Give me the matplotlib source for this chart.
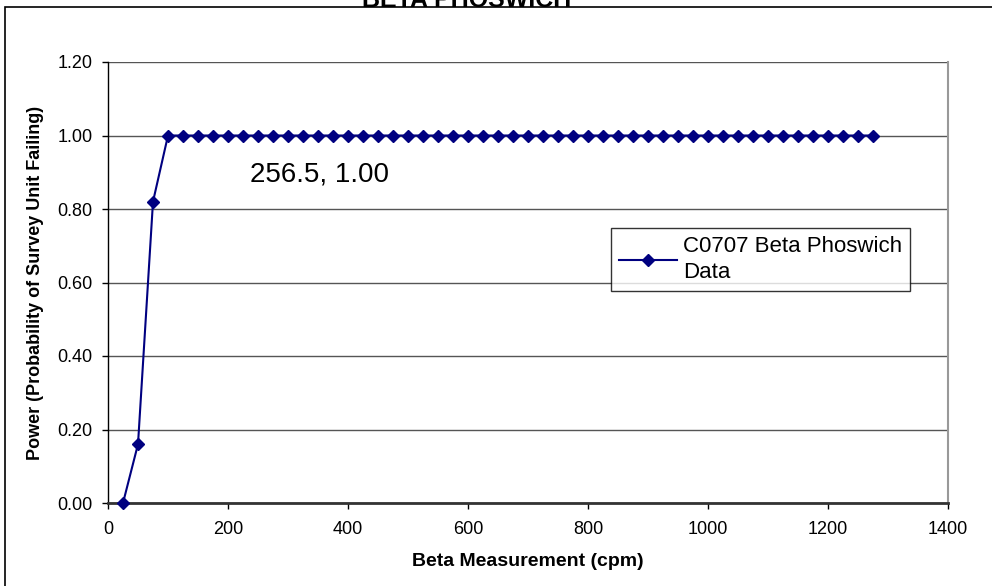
import matplotlib
matplotlib.use("Agg")
import matplotlib.pyplot as plt
from matplotlib.patches import Rectangle

plt.rcParams['font.family'] = ['Liberation Sans', 'DejaVu Sans']

# Data
beta_cpm = [25, 50, 75, 100, 125, 150, 175, 200, 225, 250, 275, 300, 325, 350,
            375, 400, 425, 450, 475, 500, 525, 550, 575, 600, 625, 650, 675,
            700, 725, 750, 775, 800, 825, 850, 875, 900, 925, 950, 975, 1000,
            1025, 1050, 1075, 1100, 1125, 1150, 1175, 1200, 1225, 1250, 1275]
power = [0.00, 0.16, 0.82] + [1.00] * 48
series_name = "C0707 Beta Phoswich\nData"
title = "BETA PHOSWICH"
annotation = "256.5, 1.00"
x_ticks = [0, 200, 400, 600, 800, 1000, 1200, 1400]
y_ticks = [0.0, 0.2, 0.4, 0.6, 0.8, 1.0, 1.2]

W, H = 992, 586
fig = plt.figure(figsize=(W / 100, H / 100), dpi=100)
ax = fig.add_axes([108 / W, 1 - 503 / H, (948 - 108) / W, (503 - 62) / H])

ax.plot(beta_cpm, power, color='#000080', lw=1.5, marker='D', ms=6,
        markeredgecolor='#000080', markerfacecolor='#000080',
        label=series_name, zorder=3, clip_on=False)

ax.set_xlim(0, 1400)
ax.set_ylim(0, 1.2)
ax.set_xticks(x_ticks)
ax.set_yticks(y_ticks)
ax.set_yticklabels([f"{v:.2f}" for v in y_ticks])
ax.tick_params(axis='both', labelsize=13, direction='out', length=4, width=1,
               color='black')
ax.tick_params(axis='y', pad=7)
ax.tick_params(axis='x', pad=9)

ax.yaxis.grid(True, color='#555555', lw=1)
ax.set_axisbelow(True)
for s in ['left', 'bottom']:
    ax.spines[s].set_color('black')
    ax.spines[s].set_linewidth(1)
ax.spines['bottom'].set_color('#333333')
ax.spines['bottom'].set_linewidth(2)
ax.spines['top'].set_visible(False)
ax.spines['right'].set_color('#999999')
ax.spines['right'].set_linewidth(1.5)

ax.set_xlabel("Beta Measurement (cpm)", fontsize=14, fontweight='bold', labelpad=11)
ax.set_ylabel("Power (Probability of Survey Unit Failing)", fontsize=13,
              fontweight='bold', labelpad=10)

ax.text(237, 0.893, annotation, fontsize=20, ha='left', va='center')

leg = ax.legend(loc='upper left', bbox_to_anchor=((611 - 108) / 840, (503 - 228) / 441),
                fontsize=16, frameon=True, fancybox=False, shadow=False,
                borderpad=0.35, handlelength=2.6, handletextpad=0.3,
                borderaxespad=0)
for t in leg.get_texts():
    t.set_linespacing(1.35)
leg.get_frame().set_edgecolor('black')
leg.get_frame().set_linewidth(1)

# outer chart border
fig.patches.append(Rectangle((5 / W, -0.05), 1.2, 1 - 7 / H + 0.05,
                             transform=fig.transFigure, fill=False,
                             edgecolor='black', lw=1.2, zorder=0))

# clipped title
fig.text(467 / W, 1 - 7 / H, title, fontsize=18, fontweight='bold',
         ha='center', va='baseline')

fig.savefig("out.png", dpi=100)
